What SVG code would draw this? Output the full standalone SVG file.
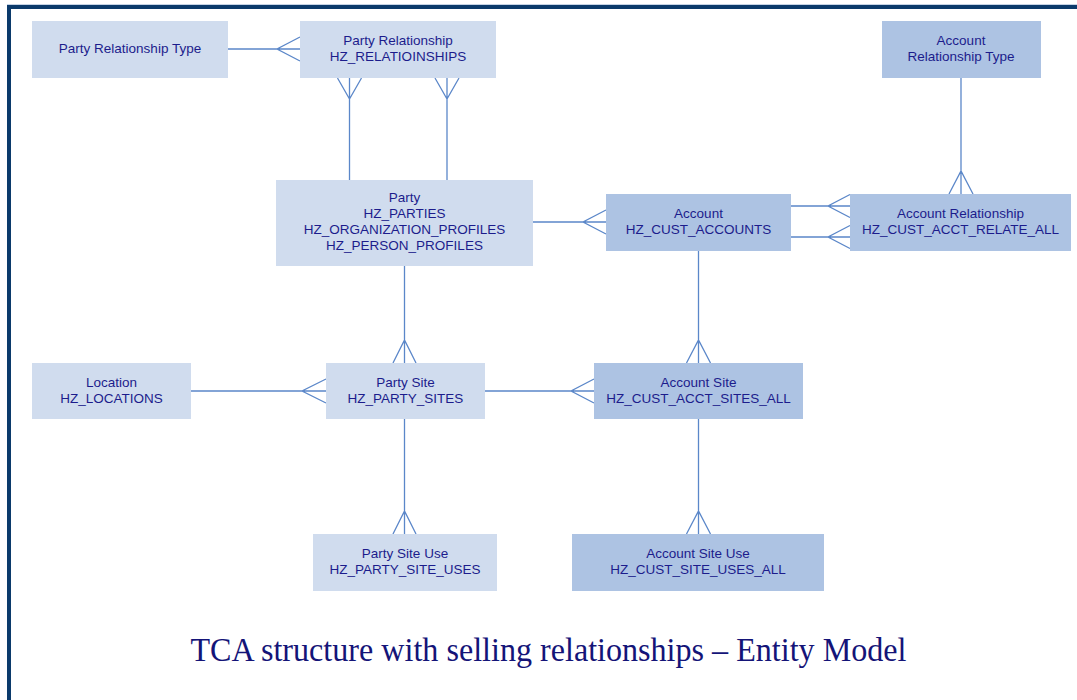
<svg xmlns="http://www.w3.org/2000/svg" width="1077" height="700" viewBox="0 0 1077 700">
  <style>
    .party { fill: #d0dcee; }
    .acct { fill: #adc3e3; }
    .lbl { font-family: "Liberation Sans", Arial, sans-serif; font-size: 13.5px; fill: #1c1c8c; text-anchor: middle; }
    .link { stroke: #5b87c9; stroke-width: 1.3; fill: none; }
    .title { font-family: "Liberation Serif", "Times New Roman", serif; font-size: 33px; fill: #141478; text-anchor: middle; }
  </style>

  <!-- page background and frame -->
  <rect x="0" y="0" width="1077" height="700" fill="#ffffff"/>
  <rect x="7" y="4" width="1070" height="1" fill="#c5d3e5"/>
  <rect x="7" y="5" width="1070" height="4" fill="#0b3a6b"/>
  <rect x="7" y="5" width="4" height="695" fill="#0b3a6b"/>

  <!-- relationship lines with crow's-foot ends -->
  <g id="connectors" class="link">
    <!-- Party Relationship Type : Party Relationship -->
    <path d="M228,49 H300 M300,37 L277,49 L300,61"/>
    <!-- Party Relationship : Party (two links) -->
    <path d="M349.5,78 V180 M337.5,78 L349.5,99 L361.5,78"/>
    <path d="M447,78 V180 M435,78 L447,99 L459,78"/>
    <!-- Account Relationship Type : Account Relationship -->
    <path d="M961,78 V194 M949,194 L961,171 L973,194"/>
    <!-- Party : Account -->
    <path d="M533,222 H606 M606,210 L583,222 L606,234"/>
    <!-- Account : Account Relationship (two links) -->
    <path d="M791,206 H850 M850,194.5 L828,206 L850,217.5"/>
    <path d="M791,237 H850 M850,225.5 L828,237 L850,248.5"/>
    <!-- Party : Party Site -->
    <path d="M404.5,266 V363 M393,363 L404.5,340 L416,363"/>
    <!-- Location : Party Site -->
    <path d="M191,391 H326 M326,379 L302,391 L326,403"/>
    <!-- Party Site : Account Site -->
    <path d="M485,391 H594 M594,379 L571,391 L594,403"/>
    <!-- Account : Account Site -->
    <path d="M698.5,251 V363 M686.5,363 L698.5,340 L710.5,363"/>
    <!-- Party Site : Party Site Use -->
    <path d="M404.5,419 V534 M393,534 L404.5,511 L416,534"/>
    <!-- Account Site : Account Site Use -->
    <path d="M698.5,419 V534 M686.5,534 L698.5,511 L710.5,534"/>
  </g>

  <!-- entities -->
  <g id="party-relationship-type">
    <rect class="party" x="32" y="21" width="196" height="57"/>
    <text class="lbl" x="130" y="53">Party Relationship Type</text>
  </g>
  <g id="party-relationship">
    <rect class="party" x="300" y="21" width="196" height="57"/>
    <text class="lbl" x="398" y="45">Party Relationship</text>
    <text class="lbl" x="398" y="61">HZ_RELATIOINSHIPS</text>
  </g>
  <g id="account-relationship-type">
    <rect class="acct" x="882" y="21" width="159" height="57"/>
    <text class="lbl" x="961" y="45">Account</text>
    <text class="lbl" x="961" y="61">Relationship Type</text>
  </g>
  <g id="party">
    <rect class="party" x="276" y="180" width="257" height="86"/>
    <text class="lbl" x="404.5" y="202">Party</text>
    <text class="lbl" x="404.5" y="218">HZ_PARTIES</text>
    <text class="lbl" x="404.5" y="234">HZ_ORGANIZATION_PROFILES</text>
    <text class="lbl" x="404.5" y="250">HZ_PERSON_PROFILES</text>
  </g>
  <g id="account">
    <rect class="acct" x="606" y="194" width="185" height="57"/>
    <text class="lbl" x="698.5" y="218">Account</text>
    <text class="lbl" x="698.5" y="234">HZ_CUST_ACCOUNTS</text>
  </g>
  <g id="account-relationship">
    <rect class="acct" x="850" y="194" width="221" height="57"/>
    <text class="lbl" x="960.5" y="218">Account Relationship</text>
    <text class="lbl" x="960.5" y="234">HZ_CUST_ACCT_RELATE_ALL</text>
  </g>
  <g id="location">
    <rect class="party" x="32" y="363" width="159" height="56"/>
    <text class="lbl" x="111.5" y="387">Location</text>
    <text class="lbl" x="111.5" y="403">HZ_LOCATIONS</text>
  </g>
  <g id="party-site">
    <rect class="party" x="326" y="363" width="159" height="56"/>
    <text class="lbl" x="405.5" y="387">Party Site</text>
    <text class="lbl" x="405.5" y="403">HZ_PARTY_SITES</text>
  </g>
  <g id="account-site">
    <rect class="acct" x="594" y="363" width="209" height="56"/>
    <text class="lbl" x="698.5" y="387">Account Site</text>
    <text class="lbl" x="698.5" y="403">HZ_CUST_ACCT_SITES_ALL</text>
  </g>
  <g id="party-site-use">
    <rect class="party" x="313" y="534" width="184" height="57"/>
    <text class="lbl" x="405" y="558">Party Site Use</text>
    <text class="lbl" x="405" y="574">HZ_PARTY_SITE_USES</text>
  </g>
  <g id="account-site-use">
    <rect class="acct" x="572" y="534" width="252" height="57"/>
    <text class="lbl" x="698" y="558">Account Site Use</text>
    <text class="lbl" x="698" y="574">HZ_CUST_SITE_USES_ALL</text>
  </g>

  <!-- caption -->
  <text class="title" x="548.5" y="661" textLength="716" lengthAdjust="spacingAndGlyphs">TCA structure with selling relationships – Entity Model</text>
</svg>
